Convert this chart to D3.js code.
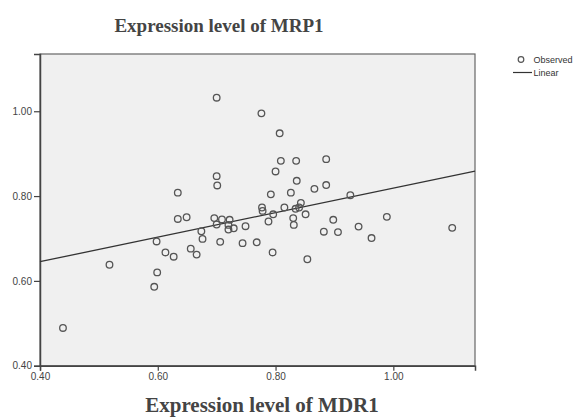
<!DOCTYPE html>
<html>
<head>
<meta charset="utf-8">
<script src="https://cdn.jsdelivr.net/npm/d3@7"></script>
<style>
body { margin: 0; background: #fff; }
.tick text { font: 10px Arial, "Liberation Sans", sans-serif; fill: #444; }
.ttl { font-family: "Liberation Serif", "Times New Roman", serif; font-weight: bold; fill: #444; }
.leg { font: 9px Arial, "Liberation Sans", sans-serif; fill: #333; }
</style>
</head>
<body>
<div id="chart"></div>
<script>
// MDR1 (x) vs MRP1 (y)
var mdr1 = [0.700, 0.776, 0.807, 0.809, 0.835, 0.886, 0.800, 0.700, 0.701, 0.836,
            0.886, 0.866, 0.826, 0.792, 0.634, 0.634, 0.649, 0.696, 0.709, 0.722,
            0.700, 0.720, 0.720, 0.729, 0.749, 0.777, 0.778, 0.796, 0.788, 0.815,
            0.834, 0.843, 0.840, 0.851, 0.830, 0.831, 0.882, 0.674, 0.676, 0.598,
            0.706, 0.744, 0.768, 0.613, 0.627, 0.656, 0.666, 0.795, 0.854, 0.599,
            0.594, 0.927, 0.898, 0.906, 0.941, 0.989, 0.963, 1.100, 0.518, 0.439];
var mrp1 = [1.032, 0.995, 0.948, 0.883, 0.883, 0.887, 0.858, 0.847, 0.825, 0.836,
            0.826, 0.817, 0.808, 0.804, 0.808, 0.746, 0.750, 0.748, 0.745, 0.744,
            0.733, 0.732, 0.721, 0.724, 0.729, 0.773, 0.765, 0.757, 0.740, 0.773,
            0.770, 0.784, 0.773, 0.757, 0.748, 0.732, 0.716, 0.717, 0.699, 0.693,
            0.692, 0.689, 0.691, 0.667, 0.657, 0.676, 0.662, 0.667, 0.651, 0.620,
            0.586, 0.802, 0.744, 0.715, 0.728, 0.751, 0.701, 0.725, 0.638, 0.489];

// fitted line as shown
var fitIntercept = 0.5295, fitSlope = 0.2894;

var xTicks = [0.40, 0.60, 0.80, 1.00];
var yTicks = [0.40, 0.60, 0.80, 1.00];
var legendLabels = ["Observed", "Linear"];

var W = 584, H = 417;
var pL = 40, pT = 54, pR = 475, pB = 365.7;

var svg = d3.select("#chart").append("svg")
    .attr("width", W).attr("height", H);

var x = d3.scaleLinear().domain([0.4, 1.1387]).range([pL, pR]);
var y = d3.scaleLinear().domain([0.4, 1.135]).range([pB, pT]);

svg.append("rect")
    .attr("x", pL).attr("y", pT)
    .attr("width", pR - pL).attr("height", pB - pT)
    .attr("fill", "#f0f0f0")
    .attr("stroke", "#666").attr("stroke-width", 1.2);

// axes
var xAxis = svg.append("g")
    .attr("transform", "translate(0," + pB + ")")
    .call(d3.axisBottom(x).tickValues(xTicks).tickFormat(d3.format(".2f")).tickSizeOuter(0).tickSize(5));
var yAxis = svg.append("g")
    .attr("transform", "translate(" + pL + ",0)")
    .call(d3.axisLeft(y).tickValues(yTicks).tickFormat(d3.format(".2f")).tickSizeOuter(0).tickSize(6));
[xAxis, yAxis].forEach(function(a) {
  a.select(".domain").attr("stroke", "#444").attr("stroke-width", 1.5);
  a.selectAll(".tick line").attr("stroke", "#444").attr("stroke-width", 1.2);
});
xAxis.selectAll(".tick text").attr("dy", "0.6em");
yAxis.selectAll(".tick text").attr("dx", "0.1em");

// fit line
var x0 = x.domain()[0], x1 = x.domain()[1];
svg.append("line")
    .attr("x1", x(x0)).attr("y1", y(fitIntercept + fitSlope * x0))
    .attr("x2", x(x1)).attr("y2", y(fitIntercept + fitSlope * x1))
    .attr("stroke", "#333").attr("stroke-width", 1.3);

// points
svg.append("g").selectAll("circle")
    .data(d3.range(mdr1.length))
    .enter().append("circle")
    .attr("cx", function(i) { return x(mdr1[i]); })
    .attr("cy", function(i) { return y(mrp1[i]); })
    .attr("r", 3.3)
    .attr("fill", "none")
    .attr("stroke", "#555")
    .attr("stroke-width", 1.3);

// titles
svg.append("text").attr("class", "ttl")
    .attr("x", 219).attr("y", 32)
    .attr("text-anchor", "middle").style("font-size", "19px")
    .text("Expression level of MRP1");
svg.append("text").attr("class", "ttl")
    .attr("x", 262).attr("y", 412)
    .attr("text-anchor", "middle").style("font-size", "21px")
    .text("Expression level of MDR1");

// legend
svg.append("circle").attr("cx", 521).attr("cy", 59.5).attr("r", 2.8)
    .attr("fill", "none").attr("stroke", "#555").attr("stroke-width", 1.2);
svg.append("line").attr("x1", 513).attr("x2", 532).attr("y1", 72.5).attr("y2", 72.5)
    .attr("stroke", "#333").attr("stroke-width", 1.2);
svg.selectAll("text.leg").data(legendLabels).enter().append("text")
    .attr("class", "leg")
    .attr("x", 533.5)
    .attr("y", function(d, i) { return 62.5 + i * 13; })
    .text(function(d) { return d; });
</script>
</body>
</html>
